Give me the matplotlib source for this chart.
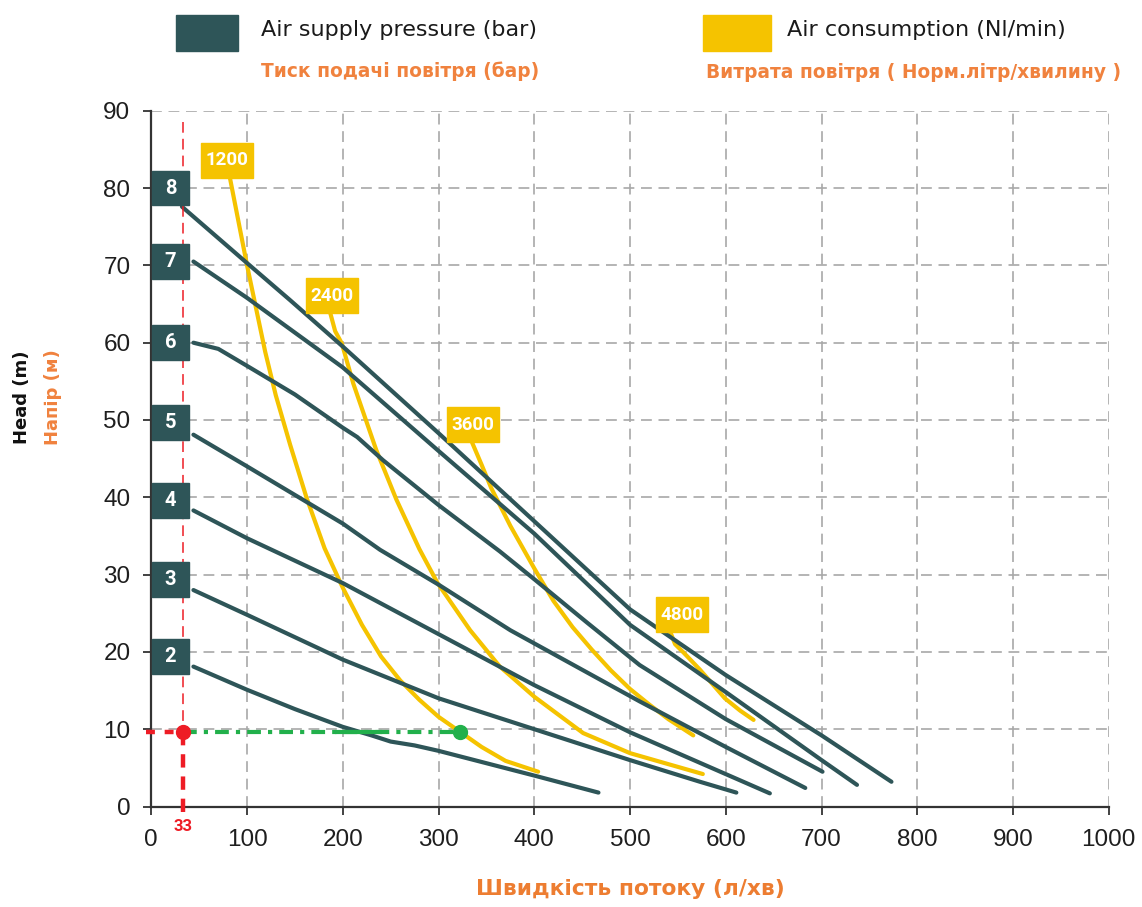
import numpy as np
import matplotlib.pyplot as plt
from matplotlib.patches import Rectangle

# Air supply pressure curves (bar): flow l/min -> head m
pressures = ['8', '7', '6', '5', '4', '3', '2']
flow8 = [32, 100, 145, 200, 300, 400, 500, 600, 700, 773]
head8 = [77.6, 70.3, 65.5, 59.5, 48.3, 36.9, 25.5, 17.0, 9.2, 3.2]
flow7 = [44, 100, 200, 300, 400, 500, 600, 700, 737]
head7 = [70.5, 65.8, 56.8, 46.0, 35.3, 23.5, 14.8, 6.0, 2.8]
flow6 = [44, 70, 100, 150, 200, 215, 242, 300, 364, 400, 455, 510, 600, 701]
head6 = [60.0, 59.2, 57.0, 53.3, 49.0, 47.8, 44.8, 39.0, 33.0, 29.4, 23.8, 18.3, 11.3, 4.5]
flow5 = [44, 100, 200, 239, 300, 375, 510, 600, 683]
head5 = [48.1, 44.0, 36.6, 33.2, 28.7, 22.8, 13.6, 7.7, 2.4]
flow4 = [44, 100, 200, 300, 400, 500, 646]
head4 = [38.3, 34.7, 28.9, 22.3, 15.7, 9.6, 1.7]
flow3 = [44, 100, 200, 300, 400, 500, 573, 611]
head3 = [28.0, 24.8, 19.0, 14.0, 10.0, 6.0, 3.2, 1.8]
flow2 = [44, 100, 150, 200, 230, 250, 275, 300, 350, 400, 467]
head2 = [18.1, 15.1, 12.6, 10.3, 9.2, 8.4, 7.9, 7.2, 5.6, 4.0, 1.8]

# Air consumption curves (Nl/min)
airLabels = ['1200', '2400', '3600', '4800']
airFlow1200 = [82, 100, 119, 130, 145, 162, 181, 200, 220, 240, 260, 280, 300, 322, 345, 370, 404]
airHead1200 = [81.4, 70.0, 58.8, 53.2, 46.8, 40.0, 33.4, 28.3, 23.5, 19.4, 16.3, 13.8, 11.6, 9.7, 7.7, 5.9, 4.5]
airFlow2400 = [187, 192, 199, 211, 235, 256, 280, 299, 333, 364, 400, 451, 500, 576]
airHead2400 = [63.8, 61.5, 59.9, 54.7, 46.1, 39.7, 33.3, 28.9, 22.8, 18.1, 14.2, 9.5, 6.9, 4.2]
airFlow3600 = [335, 345, 355, 375, 400, 420, 440, 460, 480, 500, 520, 540, 566]
airHead3600 = [47.1, 44.2, 41.2, 36.3, 30.8, 26.6, 23.2, 20.3, 17.6, 15.2, 13.2, 11.3, 9.2]
airFlow4800 = [542, 547, 556, 573, 599, 615, 629]
airHead4800 = [22.6, 21.0, 19.9, 17.7, 14.0, 12.4, 11.2]

# operating point
opFlow = 33
opHead = 9.7

teal = '#2E5558'
yellow = '#F5C300'
orange = '#F0823E'
red = '#EE1C25'
green = '#22B04B'

figW, figH = 1142, 907


def figXY(px, py):
    return px / figW, 1 - py / figH


fig = plt.figure(figsize=(figW / 100, figH / 100), dpi=100)
ax = fig.add_axes([151.3 / figW, 1 - 806.5 / figH, 957.5 / figW, 695.7 / figH])

ax.set_xlim(0, 1000)
ax.set_ylim(0, 90)
ax.set_xticks(np.arange(0, 1001, 100))
ax.set_yticks(np.arange(0, 91, 10))
ax.grid(True, color='#A8A8A8', linestyle=(0, (6.5, 4)), linewidth=1.2)
ax.set_axisbelow(True)
for side in ['top', 'right']:
    ax.spines[side].set_visible(False)
for side in ['left', 'bottom']:
    ax.spines[side].set_linewidth(1.6)
    ax.spines[side].set_color('#333333')
ax.tick_params(length=6, width=1.3, color='#333333', labelsize=17.5, labelcolor='#1E1E1E')
ax.tick_params(axis='x', pad=10)
ax.tick_params(axis='y', pad=9)
for lab in ax.get_xticklabels() + ax.get_yticklabels():
    lab.set_family('Liberation Sans')

# air consumption curves with their labels
airCurves = [(airFlow1200, airHead1200), (airFlow2400, airHead2400),
             (airFlow3600, airHead3600), (airFlow4800, airHead4800)]
airBoxCentres = [(79, 83.6), (189, 66.1), (336, 49.4), (554, 24.8)]
for (fx, hy), lab, (cx, cy) in zip(airCurves, airLabels, airBoxCentres):
    ax.plot(fx, hy, color=yellow, lw=3, solid_capstyle='round', zorder=2)
    ax.add_patch(Rectangle((cx - 27, cy - 2.25), 54, 4.5, color=yellow, zorder=5))
    ax.text(cx, cy, lab, color='white', fontsize=13.5, fontweight='bold',
            family='Roboto', ha='center', va='center', zorder=6)

# pressure curves with their labels
pressureCurves = [(flow8, head8), (flow7, head7), (flow6, head6), (flow5, head5),
                  (flow4, head4), (flow3, head3), (flow2, head2)]
pressureBoxY = [80, 70.5, 60, 49.7, 39.6, 29.4, 19.4]
for (fx, hy), lab, cy in zip(pressureCurves, pressures, pressureBoxY):
    ax.plot(fx, hy, color=teal, lw=3, solid_capstyle='round', zorder=3)
    ax.add_patch(Rectangle((0.6, cy - 2.25), 39, 4.5, color=teal, zorder=5, clip_on=False))
    ax.text(20, cy, lab, color='white', fontsize=14.5, fontweight='bold',
            family='Roboto', ha='center', va='center', zorder=6)

# operating point lines
airFlowAtOp = np.interp(opHead, airHead1200[::-1], airFlow1200[::-1])
flow2AtOp = np.interp(opHead, head2[::-1], flow2[::-1])
ax.plot([opFlow, opFlow], [88.5, opHead], color=red, lw=1.1,
        linestyle=(0, (7, 4)), zorder=4)
ax.plot([opFlow, opFlow], [opHead, -0.8], color=red, lw=3.2,
        linestyle=(0, (3, 2)), zorder=4, clip_on=False)
ax.plot([-6, opFlow], [opHead, opHead], color=red, lw=3.2,
        linestyle=(0, (2, 2.2)), zorder=4, clip_on=False)
ax.plot([opFlow, airFlowAtOp], [opHead, opHead], color=green, lw=3,
        linestyle=(0, (3.3, 1.7, 1, 1.7)), zorder=4)
ax.plot([flow2AtOp - 22, flow2AtOp + 22], [opHead, opHead], color=green, lw=3, zorder=4)
ax.plot(airFlowAtOp, opHead, 'o', color=green, ms=10, zorder=7)
ax.plot(opFlow, opHead, 'o', color=red, ms=10, zorder=7, clip_on=False)
ax.text(opFlow, -2.6, str(opFlow), color=red, fontsize=12, fontweight='bold',
        family='Roboto', ha='center', va='center', clip_on=False)

# legend
fig.add_artist(Rectangle(figXY(176, 50.7), 62 / figW, 35.7 / figH,
                         transform=fig.transFigure, color=teal))
fig.add_artist(Rectangle(figXY(703, 50.7), 68 / figW, 35.7 / figH,
                         transform=fig.transFigure, color=yellow))
fig.text(*figXY(261, 30), 'Air supply pressure (bar)', fontsize=16,
         family='DejaVu Sans', color='#1A1A1A', ha='left', va='center')
fig.text(*figXY(787, 30), 'Air consumption (Nl/min)', fontsize=16,
         family='DejaVu Sans', color='#1A1A1A', ha='left', va='center')
fig.text(*figXY(261, 71), 'Тиск подачі повітря (бар)', fontsize=13.4,
         family='DejaVu Sans', fontweight='bold', color=orange, ha='left', va='center')
fig.text(*figXY(706, 72), 'Витрата повітря ( Норм.літр/хвилину )', fontsize=13.4,
         family='DejaVu Sans', fontweight='bold', color=orange, ha='left', va='center')

# axis titles
fig.text(*figXY(22, 444), 'Head (m)', fontsize=13, family='DejaVu Sans',
         fontweight='bold', color='#111111', rotation=90, ha='center', va='bottom')
fig.text(*figXY(52.5, 445), 'Напір (м)', fontsize=13, family='DejaVu Sans',
         fontweight='bold', color=orange, rotation=90, ha='center', va='bottom')
fig.text(*figXY(630, 889), 'Швидкість потоку (л/хв)', fontsize=15.7, family='DejaVu Sans',
         fontweight='bold', color='#ED7D31', ha='center', va='center')

fig.savefig('out.png', dpi=100)
